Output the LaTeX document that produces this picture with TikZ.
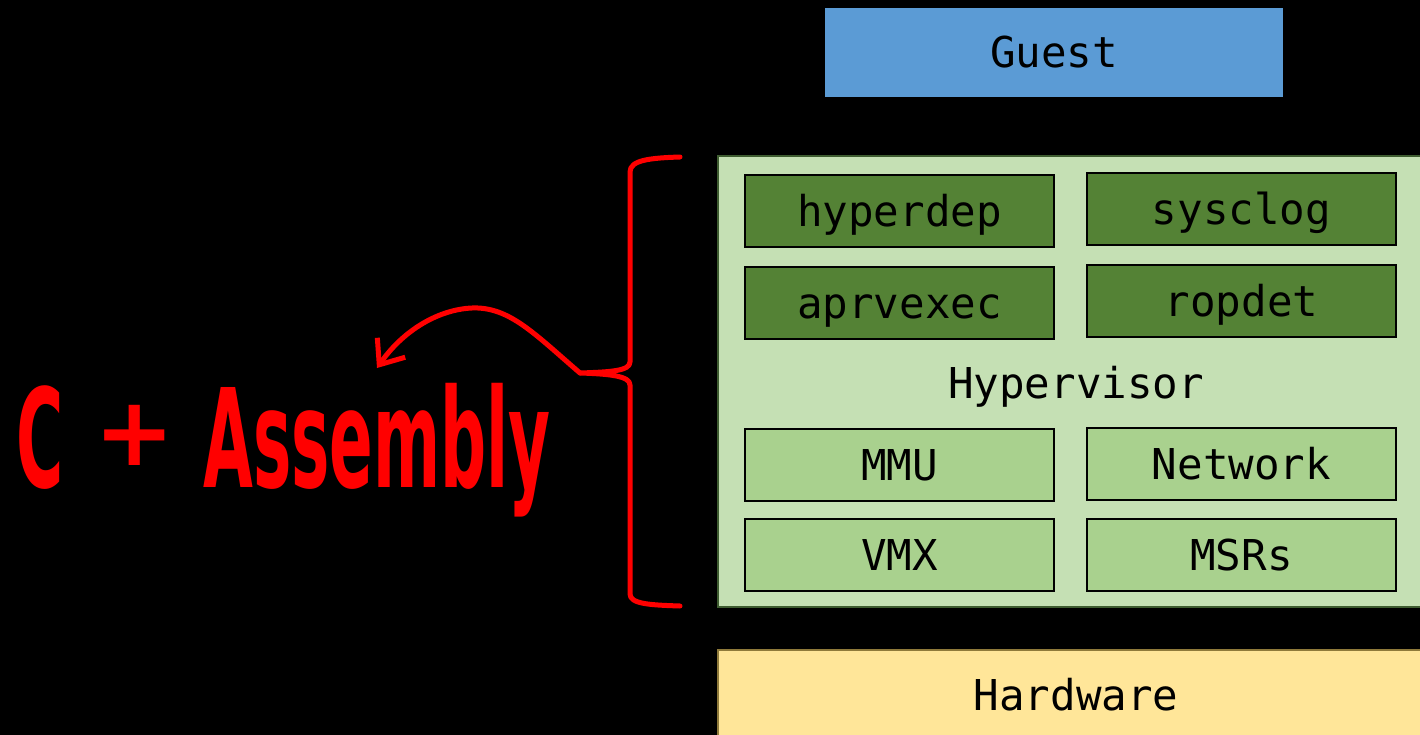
\documentclass[tikz,border=0pt]{standalone}
\usepackage{fontspec}
\setmonofont{DejaVu Sans Mono}
\newfontfamily\headfont{DejaVu Sans}
\usetikzlibrary{arrows.meta}
\definecolor{guestblue}{HTML}{5B9BD5}
\definecolor{hvgreen}{HTML}{C5E0B4}
\definecolor{moddark}{HTML}{548235}
\definecolor{modlight}{HTML}{A9D18E}
\definecolor{hwyellow}{HTML}{FFE699}
\definecolor{hvedge}{HTML}{3E5C30}
\definecolor{hwedge}{HTML}{8F7A3A}
\definecolor{hotred}{HTML}{FF0000}
\tikzset{
  label/.style={font=\ttfamily\fontsize{42.5}{48}\selectfont, text=black,
    text height=31pt, text depth=0pt, inner sep=0pt},
  module/.style={label, draw=black, line width=2pt,
    minimum width=309pt, minimum height=72pt},
  darkmod/.style={module, fill=moddark},
  lightmod/.style={module, fill=modlight},
  bigred/.style={font=\headfont\bfseries\fontsize{140}{150}\selectfont,
    text=hotred, inner sep=0pt},
  redline/.style={draw=hotred, line width=5pt, line cap=round, line join=round},
}
\begin{document}
\begin{tikzpicture}[x=1pt, y=-1pt]
  \useasboundingbox (0,0) rectangle (1420,735);
  \fill[black] (0,0) rectangle (1420,735);
  \clip (0,0) rectangle (1420,735);

  % software stack
  \node[label, fill=guestblue, minimum width=458pt, minimum height=89pt] (guest) at (1054,52.5) {Guest};

  \node[draw=hvedge, line width=1.5pt, fill=hvgreen, minimum width=710pt,
        minimum height=451pt, inner sep=0pt] (hv) at (1073,381.5) {};
  \node[label] (hvlabel) at (1076,383) {Hypervisor};

  \node[darkmod] (hyperdep) at (899.5,211) {hyperdep};
  \node[darkmod] (sysclog)  at (1241.5,209) {sysclog};
  \node[darkmod] (aprvexec) at (899.5,302.5) {aprvexec};
  \node[darkmod] (ropdet)   at (1241.5,300.5) {ropdet};

  \node[lightmod] (mmu)     at (899.5,465) {MMU};
  \node[lightmod] (network) at (1241.5,464) {Network};
  \node[lightmod] (vmx)     at (899.5,554.5) {VMX};
  \node[lightmod] (msrs)    at (1241.5,554.5) {MSRs};

  \node[label, draw=hwedge, line width=1.5pt, fill=hwyellow,
        minimum width=710pt, minimum height=110pt] (hw) at (1073,705) {};
  \node[label] (hwlabel) at (1076,695) {Hardware};

  % language annotation
  \node[bigred, anchor=base west] (clang) at (16,487) {\scalebox{0.46}[0.98]{C}};
  \node[bigred, font=\headfont\bfseries\fontsize{96}{100}\selectfont] (plus) at (135,435) {+};
  \node[bigred, anchor=base west] (asm) at (203,487) {\scalebox{0.46}[0.98]{Assembly}};

  % curly brace spanning the hypervisor
  \coordinate (btop) at (680,157);
  \coordinate (btip) at (580,373);
  \coordinate (bbot) at (680,606);
  \draw[redline] (btop) .. controls (650,158) and (630,160) .. (630,172)
    -- (630,362) .. controls (630,371) and (610,372) .. (btip)
    .. controls (610,374) and (630,376) .. (630,385)
    -- (630,594) .. controls (630,604) and (650,605) .. (bbot);

  % arrow from the brace to the language label
  \coordinate (ahead) at (377,368);
  \draw[redline, -{Straight Barb[length=21pt,width=34pt]}]
    (btip) .. controls (530,330) and (505,302) .. (462,309)
    .. controls (430,314) and (400,335) .. (ahead);
\end{tikzpicture}
\end{document}
